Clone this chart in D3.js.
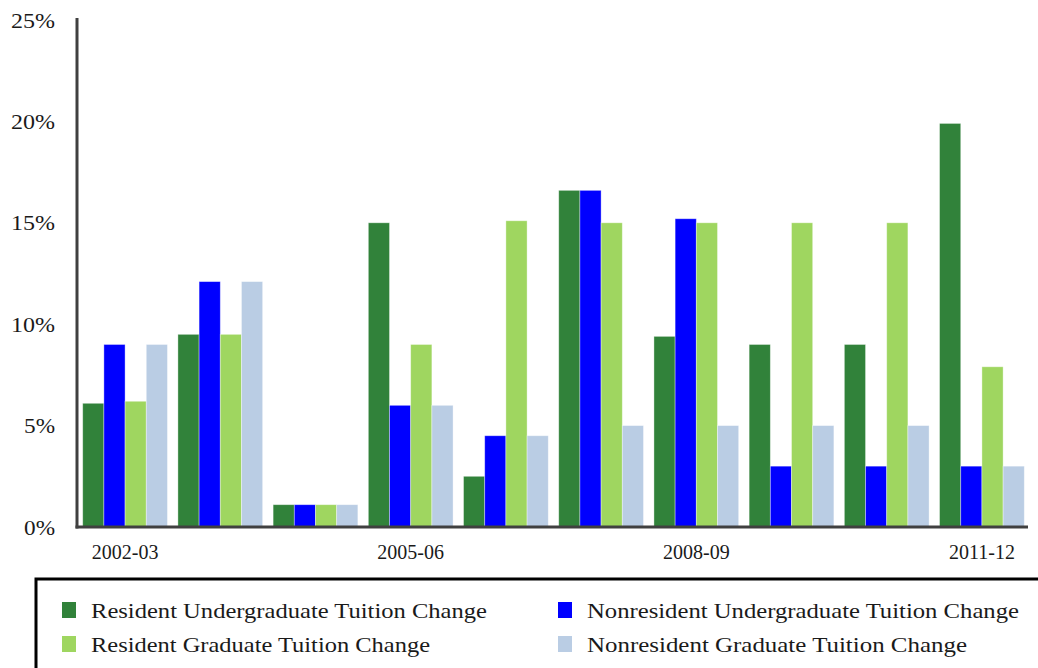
<!DOCTYPE html>
<html>
<head>
<meta charset="utf-8">
<script src="https://d3js.org/d3.v7.min.js"></script>
<style>
  html, body { margin: 0; padding: 0; background: #fff; }
  svg { display: block; }
  text { font-family: "Liberation Serif", "DejaVu Serif", serif; fill: #1a1a1a; }
</style>
</head>
<body>
<svg id="chart" width="1038" height="668"></svg>
<script>
// ---- data ----
const categories = ["2002-03","2003-04","2004-05","2005-06","2006-07","2007-08","2008-09","2009-10","2010-11","2011-12"];
const shownLabels = ["2002-03","2005-06","2008-09","2011-12"];
const seriesNames = [
  "Resident Undergraduate Tuition Change",
  "Nonresident Undergraduate Tuition Change",
  "Resident Graduate Tuition Change",
  "Nonresident Graduate Tuition Change"
];
const residentUndergrad    = [6.1, 9.5, 1.1, 15.0, 2.5, 16.6, 9.4, 9.0, 9.0, 19.9];
const nonresidentUndergrad = [9.0, 12.1, 1.1, 6.0, 4.5, 16.6, 15.2, 3.0, 3.0, 3.0];
const residentGrad         = [6.2, 9.5, 1.1, 9.0, 15.1, 15.0, 15.0, 15.0, 15.0, 7.9];
const nonresidentGrad      = [9.0, 12.1, 1.1, 6.0, 4.5, 5.0, 5.0, 5.0, 5.0, 3.0];
const yTicks = [0, 5, 10, 15, 20, 25];
const colors = ["#31823A", "#0000FF", "#9FD660", "#BACDE4"];

const seriesValues = [residentUndergrad, nonresidentUndergrad, residentGrad, nonresidentGrad];

// ---- layout ----
const svg = d3.select("#chart");
const x0 = 77, x1 = 1030, yBase = 527, yTop = 20;

const x = d3.scaleBand().domain(categories).range([x0, x1]).paddingInner(0.11).paddingOuter(0.06);
const xs = d3.scaleBand().domain(d3.range(4)).range([0, x.bandwidth()]).padding(0);
const y = d3.scaleLinear().domain([0, 25]).range([yBase, yTop]);

// bars
const groups = svg.append("g").selectAll("g")
  .data(categories)
  .join("g")
  .attr("transform", d => `translate(${x(d)},0)`);

groups.selectAll("rect")
  .data((d, i) => seriesValues.map((s, k) => ({k, v: s[i]})))
  .join("rect")
  .attr("x", d => xs(d.k))
  .attr("width", xs.bandwidth())
  .attr("y", d => y(d.v))
  .attr("height", d => yBase - y(d.v))
  .attr("fill", d => colors[d.k])
  .attr("stroke", "rgba(255,255,255,0.45)")
  .attr("stroke-width", 0.8);

// y axis
const yAxis = d3.axisLeft(y).tickValues(yTicks).tickFormat(d => d + "%").tickSize(0).tickPadding(22);
const gy = svg.append("g").attr("transform", `translate(${x0},0)`).call(yAxis);
gy.select(".domain").remove();
gy.selectAll("text").style("font-size", "22px").style("font-family", "Liberation Serif").attr("fill", "#1a1a1a")
  .attr("textLength", d => d >= 10 ? 44 : 31).attr("lengthAdjust", "spacingAndGlyphs");

svg.append("line").attr("x1", x0).attr("x2", x0).attr("y1", 18).attr("y2", yBase + 1.5)
  .attr("stroke", "#404040").attr("stroke-width", 3);

// x axis
const xAxis = d3.axisBottom(x).tickValues(shownLabels).tickSize(0).tickPadding(18);
const gx = svg.append("g").attr("transform", `translate(0,${yBase})`).call(xAxis);
gx.select(".domain").remove();
gx.selectAll("text").style("font-size", "20px").style("font-family", "Liberation Serif").attr("fill", "#1a1a1a");

svg.append("line").attr("x1", x0 - 1.5).attr("x2", 1028).attr("y1", yBase).attr("y2", yBase)
  .attr("stroke", "#404040").attr("stroke-width", 3);

// legend box
svg.append("path")
  .attr("d", `M36,670 L36,579 L1040,579`)
  .attr("fill", "none").attr("stroke", "#000").attr("stroke-width", 3);

const legendPos = [
  {x: 62, y: 610, w: 396}, {x: 558, y: 610, w: 432},
  {x: 62, y: 644, w: 339}, {x: 558, y: 644, w: 380}
];
const lg = svg.append("g").selectAll("g")
  .data(seriesNames)
  .join("g")
  .attr("transform", (d, i) => `translate(${legendPos[i].x},${legendPos[i].y})`);
lg.append("rect").attr("x", 0).attr("y", -8).attr("width", 14).attr("height", 16)
  .attr("fill", (d, i) => colors[i]);
lg.append("text").attr("x", 29).attr("y", 0).attr("dy", "0.35em")
  .style("font-size", "22px")
  .attr("textLength", (d, i) => legendPos[i].w).attr("lengthAdjust", "spacingAndGlyphs")
  .text(d => d);
</script>
</body>
</html>
